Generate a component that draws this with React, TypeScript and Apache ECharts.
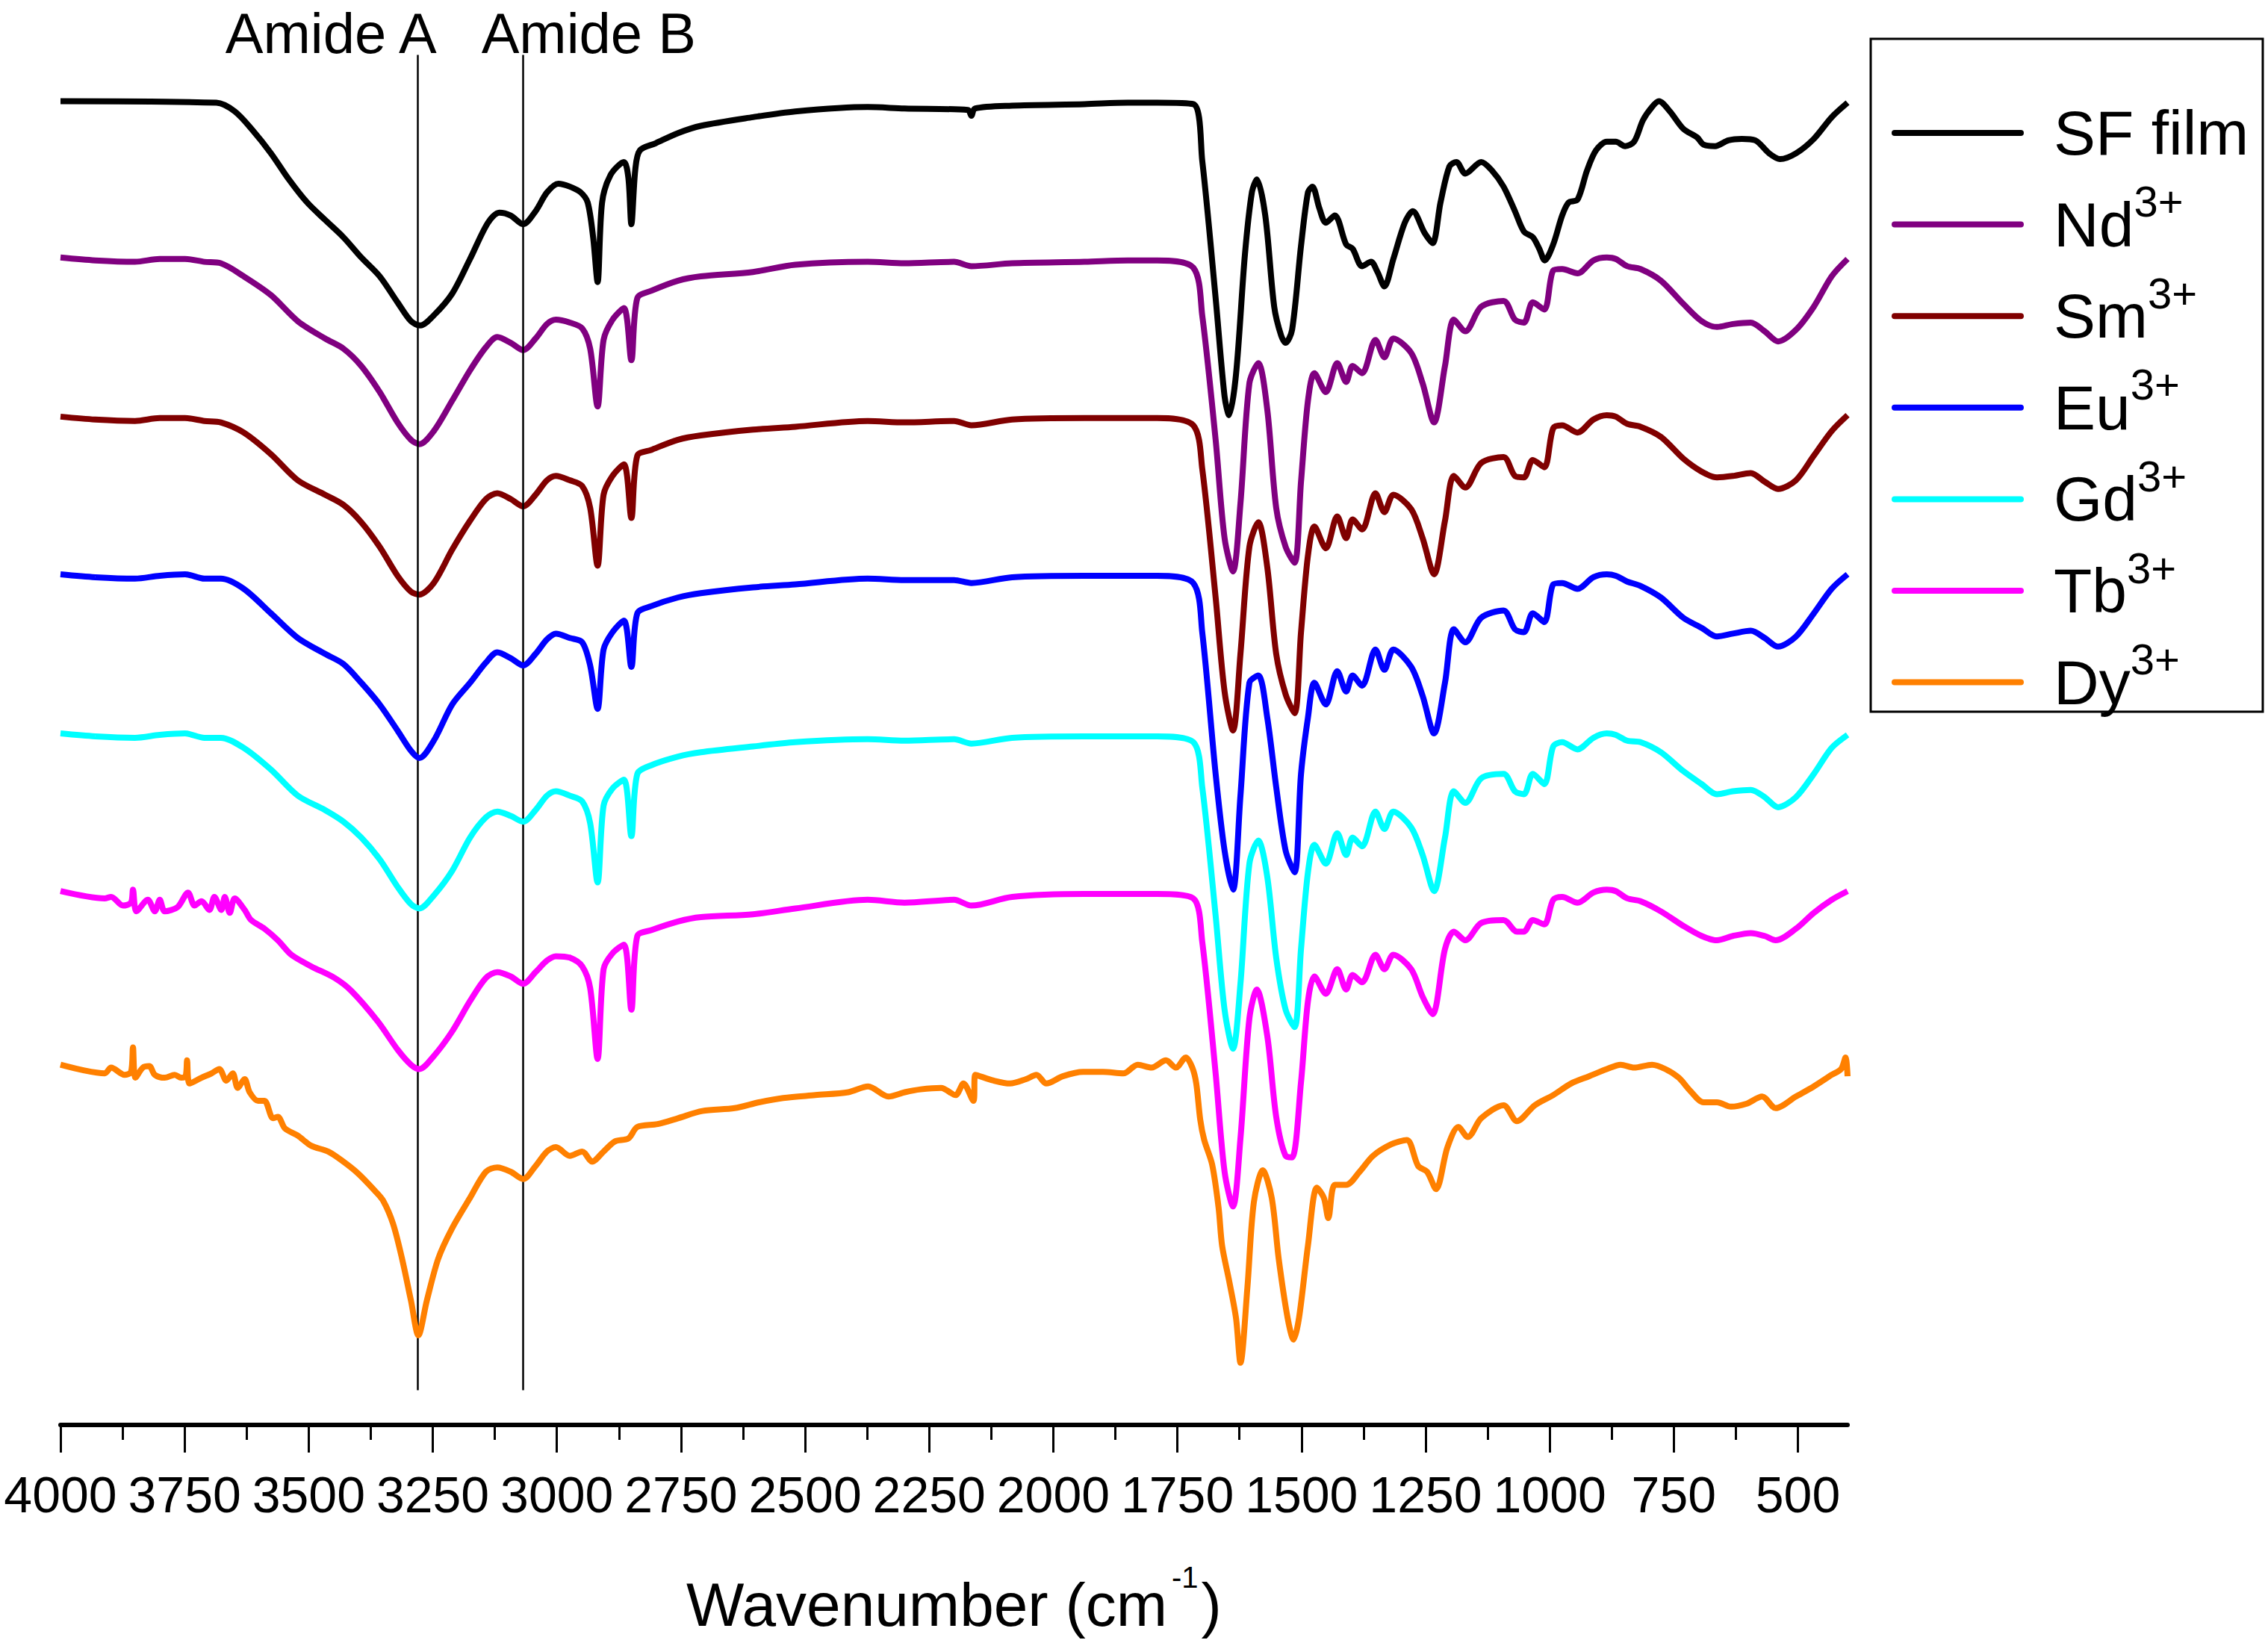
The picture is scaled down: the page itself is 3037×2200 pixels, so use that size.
import React, { useEffect, useRef } from "react";
import * as echarts from "echarts";

const FONT = "Liberation Sans, Arial, sans-serif";

// ---- categories / legend ----
const seriesNames = ["SF film", "Nd3+", "Sm3+", "Eu3+", "Gd3+", "Tb3+", "Dy3+"];
const legendBase = ["SF film", "Nd", "Sm", "Eu", "Gd", "Tb", "Dy"];
const legendCharge = ["", "3+", "3+", "3+", "3+", "3+", "3+"];
const seriesColors = ["#000000", "#800080", "#800000", "#0000ff", "#00ffff", "#ff00ff", "#ff8000"];

// ---- tick labels ----
const xTickValues = [4000, 3750, 3500, 3250, 3000, 2750, 2500, 2250, 2000, 1750, 1500, 1250, 1000, 750, 500];
const xMinorTickValues = [3875, 3625, 3375, 3125, 2875, 2625, 2375, 2125, 1875, 1625, 1375, 1125, 875, 625];

// ---- annotations ----
const amideLineWn = [3280, 3068];
const amideLabels = ["Amide A", "Amide B"];
const amideLabelWn = [3455, 2936];
const amideLabelLevel = 97.7;
const amideLineTop = 96.2;
const amideLineBottom = 3.9;

// ---- spectra: [wavenumber (cm-1), transmittance (a.u., offset)] ----
const sfFilm: [number, number][] = [
  [4000, 93.0], [3686, 92.9], [3649, 92.3], [3613, 91.0], [3576, 89.4], [3540, 87.6], [3503, 86.0], [3467, 84.8],
  [3430, 83.6], [3394, 82.2], [3357, 80.9], [3321, 79.1], [3294, 77.8], [3275, 77.5], [3248, 78.2], [3211, 79.7],
  [3175, 82.1], [3139, 84.6], [3116, 85.3], [3093, 85.1], [3068, 84.5], [3043, 85.4], [3020, 86.7], [2997, 87.3],
  [2974, 87.1], [2952, 86.7], [2938, 86.0], [2927, 83.6], [2918, 80.5], [2909, 86.0], [2892, 87.9], [2865, 88.8],
  [2856, 87.7], [2850, 84.5], [2842, 88.3], [2833, 89.6], [2801, 90.1], [2756, 90.8], [2710, 91.3], [2605, 91.9],
  [2520, 92.3], [2374, 92.6], [2300, 92.5], [2172, 92.4], [2165, 92.0], [2158, 92.5], [2083, 92.7], [1937, 92.8],
  [1850, 92.9], [1791, 92.9], [1718, 92.8], [1700, 88.9], [1673, 79.4], [1655, 72.6], [1646, 71.3], [1632, 74.1],
  [1614, 82.4], [1600, 86.7], [1590, 87.6], [1573, 85.1], [1555, 78.8], [1541, 76.8], [1532, 76.3], [1519, 77.2],
  [1501, 83.0], [1487, 86.7], [1478, 87.1], [1464, 85.6], [1451, 84.6], [1433, 85.1], [1410, 83.1], [1397, 82.8],
  [1378, 81.6], [1360, 81.9], [1347, 81.2], [1333, 80.2], [1315, 82.1], [1292, 84.6], [1276, 85.4], [1252, 83.9],
  [1236, 83.2], [1220, 86.0], [1202, 88.5], [1188, 88.8], [1170, 88.0], [1138, 88.8], [1116, 88.2], [1093, 87.1],
  [1070, 85.4], [1052, 84.0], [1034, 83.6], [1021, 82.8], [1010, 82.0], [993, 83.1], [975, 85.1], [962, 86.0],
  [944, 86.2], [925, 88.2], [907, 89.6], [885, 90.2], [867, 90.2], [848, 89.9], [830, 90.2], [812, 91.7],
  [794, 92.6], [780, 93.0], [758, 92.3], [731, 91.1], [703, 90.5], [690, 90.0], [667, 89.9], [640, 90.3],
  [613, 90.4], [586, 90.3], [558, 89.4], [536, 89.0], [504, 89.4], [468, 90.4], [432, 91.9], [400, 92.9],
];

const nd: [number, number][] = [
  [4000, 82.2], [3930, 82.0], [3850, 81.9], [3800, 82.1], [3749, 82.1], [3710, 81.9], [3677, 81.8], [3631, 80.9],
  [3576, 79.6], [3522, 77.8], [3467, 76.6], [3430, 75.9], [3394, 74.7], [3357, 72.9], [3321, 70.8], [3294, 69.6],
  [3277, 69.3], [3248, 70.2], [3211, 72.3], [3175, 74.4], [3143, 76.0], [3120, 76.7], [3093, 76.3], [3068, 75.8],
  [3043, 76.6], [3020, 77.6], [3002, 77.9], [2974, 77.7], [2949, 77.3], [2933, 75.9], [2918, 71.9], [2906, 76.5],
  [2888, 77.9], [2865, 78.7], [2850, 75.1], [2838, 79.4], [2810, 79.9], [2756, 80.6], [2710, 80.9], [2605, 81.2],
  [2520, 81.7], [2374, 81.9], [2300, 81.8], [2200, 81.9], [2165, 81.6], [2083, 81.8], [1937, 81.9], [1850, 82.0],
  [1791, 82.0], [1718, 81.5], [1700, 78.2], [1673, 69.6], [1655, 62.8], [1638, 60.5], [1623, 65.2], [1605, 73.5],
  [1587, 74.9], [1569, 71.7], [1551, 64.9], [1532, 62.2], [1514, 61.1], [1501, 66.7], [1487, 72.3], [1474, 74.2],
  [1451, 72.9], [1428, 74.9], [1410, 73.6], [1397, 74.7], [1378, 74.2], [1351, 76.5], [1333, 75.3], [1315, 76.6],
  [1279, 75.6], [1256, 73.5], [1233, 70.8], [1211, 74.7], [1193, 77.9], [1170, 77.1], [1138, 78.8], [1093, 79.2],
  [1070, 77.9], [1052, 77.7], [1034, 79.1], [1011, 78.6], [993, 81.3], [975, 81.4], [944, 81.1], [912, 82.0],
  [885, 82.2], [867, 82.1], [844, 81.6], [817, 81.4], [776, 80.6], [731, 79.0], [694, 77.8], [663, 77.4],
  [631, 77.6], [595, 77.7], [567, 77.1], [540, 76.4], [504, 77.2], [468, 78.8], [432, 80.9], [400, 82.1],
];

const sm: [number, number][] = [
  [4000, 71.2], [3930, 71.0], [3850, 70.9], [3800, 71.1], [3749, 71.1], [3710, 70.9], [3677, 70.8], [3631, 70.1],
  [3576, 68.6], [3522, 66.8], [3467, 65.8], [3430, 65.1], [3394, 63.9], [3357, 62.2], [3321, 60.2], [3294, 59.1],
  [3277, 58.9], [3248, 59.7], [3211, 62.0], [3175, 64.0], [3143, 65.5], [3120, 65.9], [3093, 65.5], [3068, 65.0],
  [3043, 65.8], [3020, 66.8], [3002, 67.1], [2974, 66.8], [2949, 66.4], [2933, 64.9], [2918, 60.9], [2906, 65.8],
  [2888, 67.1], [2865, 67.9], [2850, 64.2], [2838, 68.5], [2810, 68.9], [2756, 69.6], [2710, 69.9], [2605, 70.3],
  [2520, 70.5], [2374, 70.9], [2300, 70.8], [2200, 70.9], [2165, 70.6], [2083, 71.0], [1937, 71.1], [1850, 71.1],
  [1791, 71.1], [1718, 70.6], [1700, 67.6], [1673, 58.7], [1655, 52.2], [1638, 49.5], [1623, 54.8], [1605, 62.2],
  [1587, 63.9], [1569, 60.8], [1551, 54.8], [1532, 52.0], [1514, 50.7], [1501, 56.3], [1487, 61.6], [1474, 63.6],
  [1451, 62.1], [1428, 64.3], [1410, 62.8], [1397, 64.1], [1378, 63.4], [1351, 65.9], [1333, 64.6], [1315, 65.8],
  [1279, 64.8], [1256, 62.8], [1233, 60.3], [1211, 64.0], [1193, 67.1], [1170, 66.3], [1138, 68.0], [1093, 68.4],
  [1070, 67.1], [1052, 67.0], [1034, 68.2], [1011, 67.7], [993, 70.4], [975, 70.6], [944, 70.1], [912, 71.0],
  [885, 71.3], [867, 71.2], [844, 70.7], [817, 70.5], [776, 69.8], [731, 68.3], [694, 67.4], [663, 67.0],
  [631, 67.1], [595, 67.3], [567, 66.7], [540, 66.2], [504, 66.8], [468, 68.5], [432, 70.2], [400, 71.3],
];

const eu: [number, number][] = [
  [4000, 60.3], [3930, 60.1], [3850, 60.0], [3800, 60.2], [3749, 60.3], [3710, 60.0], [3677, 60.0], [3631, 59.3],
  [3576, 57.6], [3522, 55.9], [3467, 54.8], [3430, 54.1], [3394, 52.8], [3357, 51.3], [3321, 49.5], [3294, 48.1],
  [3277, 47.6], [3248, 48.8], [3211, 51.3], [3175, 52.8], [3143, 54.2], [3120, 54.9], [3093, 54.5], [3068, 54.0],
  [3043, 54.8], [3020, 55.8], [3002, 56.2], [2974, 55.9], [2949, 55.6], [2933, 54.0], [2918, 51.0], [2906, 55.1],
  [2888, 56.3], [2865, 57.1], [2850, 53.9], [2838, 57.6], [2810, 58.1], [2756, 58.7], [2710, 59.0], [2605, 59.4],
  [2520, 59.6], [2374, 60.0], [2300, 59.9], [2200, 59.9], [2165, 59.7], [2083, 60.1], [1937, 60.2], [1850, 60.2],
  [1791, 60.2], [1718, 59.7], [1700, 56.3], [1673, 46.5], [1655, 41.2], [1638, 38.5], [1623, 45.0], [1605, 52.8],
  [1587, 53.3], [1569, 50.4], [1551, 45.6], [1532, 41.2], [1514, 39.7], [1501, 46.5], [1487, 50.4], [1474, 52.8],
  [1451, 51.3], [1428, 53.6], [1410, 52.2], [1397, 53.3], [1378, 52.6], [1351, 55.1], [1333, 53.7], [1315, 55.1],
  [1279, 53.9], [1256, 51.9], [1233, 49.3], [1211, 52.8], [1193, 56.5], [1170, 55.6], [1138, 57.3], [1093, 57.8],
  [1070, 56.5], [1052, 56.3], [1034, 57.6], [1011, 57.0], [993, 59.6], [975, 59.7], [944, 59.3], [912, 60.1],
  [885, 60.3], [867, 60.2], [844, 59.8], [817, 59.5], [776, 58.7], [731, 57.3], [694, 56.6], [663, 56.0],
  [631, 56.2], [595, 56.4], [567, 55.9], [540, 55.3], [504, 56.0], [468, 57.6], [432, 59.3], [400, 60.3],
];

const gd: [number, number][] = [
  [4000, 49.3], [3930, 49.1], [3850, 49.0], [3800, 49.2], [3749, 49.3], [3710, 49.0], [3677, 49.0], [3631, 48.3],
  [3576, 46.8], [3522, 45.0], [3467, 44.0], [3430, 43.2], [3394, 42.1], [3357, 40.6], [3321, 38.7], [3294, 37.5],
  [3277, 37.2], [3248, 38.1], [3211, 39.8], [3175, 42.1], [3143, 43.5], [3120, 43.9], [3093, 43.6], [3068, 43.2],
  [3043, 44.0], [3020, 45.0], [3002, 45.3], [2974, 45.0], [2949, 44.6], [2933, 43.1], [2918, 39.0], [2906, 44.3],
  [2888, 45.5], [2865, 46.1], [2850, 42.2], [2838, 46.5], [2810, 47.1], [2756, 47.7], [2710, 48.0], [2605, 48.4],
  [2520, 48.7], [2374, 48.9], [2300, 48.8], [2200, 48.9], [2165, 48.6], [2083, 49.0], [1937, 49.1], [1850, 49.1],
  [1791, 49.1], [1718, 48.7], [1700, 45.6], [1673, 36.7], [1655, 30.2], [1638, 27.5], [1623, 32.0], [1605, 40.3],
  [1587, 41.9], [1569, 39.4], [1551, 33.8], [1532, 30.2], [1514, 29.0], [1501, 34.4], [1487, 39.7], [1474, 41.6],
  [1451, 40.3], [1428, 42.4], [1410, 40.9], [1397, 42.1], [1378, 41.5], [1351, 43.9], [1333, 42.7], [1315, 43.9],
  [1279, 42.8], [1256, 40.9], [1233, 38.4], [1211, 42.1], [1193, 45.3], [1170, 44.5], [1138, 46.2], [1093, 46.5],
  [1070, 45.3], [1052, 45.1], [1034, 46.5], [1011, 45.8], [993, 48.4], [975, 48.7], [944, 48.2], [912, 49.0],
  [885, 49.3], [867, 49.2], [844, 48.8], [817, 48.7], [776, 48.0], [731, 46.7], [694, 45.8], [663, 45.1],
  [631, 45.3], [595, 45.4], [567, 44.9], [540, 44.2], [504, 44.9], [468, 46.5], [432, 48.3], [400, 49.2],
];

const tb: [number, number][] = [
  [4000, 38.4], [3911, 37.9], [3898, 38.0], [3874, 37.4], [3858, 37.6], [3854, 38.5], [3847, 37.0], [3824, 37.8],
  [3810, 37.0], [3800, 37.8], [3790, 37.0], [3764, 37.3], [3743, 38.3], [3730, 37.4], [3716, 37.7], [3700, 37.1],
  [3690, 38.0], [3676, 37.1], [3669, 38.0], [3659, 36.9], [3649, 37.9], [3629, 37.1], [3616, 36.4], [3589, 35.8],
  [3562, 35.0], [3535, 34.0], [3495, 33.2], [3448, 32.4], [3414, 31.5], [3361, 29.4], [3320, 27.4], [3294, 26.4],
  [3277, 26.1], [3248, 27.0], [3211, 28.7], [3175, 30.8], [3143, 32.4], [3120, 32.8], [3093, 32.5], [3068, 32.0],
  [3043, 32.8], [3020, 33.6], [3002, 33.9], [2974, 33.8], [2949, 33.2], [2933, 31.7], [2918, 26.8], [2906, 33.0],
  [2888, 34.1], [2865, 34.7], [2850, 30.2], [2838, 35.3], [2810, 35.7], [2756, 36.3], [2710, 36.6], [2605, 36.8],
  [2520, 37.2], [2374, 37.8], [2300, 37.6], [2200, 37.8], [2165, 37.4], [2083, 38.0], [1937, 38.2], [1850, 38.2],
  [1791, 38.2], [1718, 37.9], [1700, 34.9], [1673, 25.8], [1655, 19.0], [1638, 16.6], [1623, 21.3], [1605, 29.6],
  [1590, 31.6], [1569, 28.4], [1551, 22.8], [1532, 20.1], [1519, 20.0], [1501, 25.2], [1487, 30.8], [1474, 32.5],
  [1451, 31.3], [1428, 33.0], [1410, 31.6], [1397, 32.6], [1378, 32.1], [1351, 34.0], [1333, 33.0], [1315, 34.0],
  [1279, 33.0], [1256, 31.1], [1236, 29.9], [1211, 34.4], [1193, 35.6], [1170, 35.0], [1138, 36.2], [1093, 36.4],
  [1066, 35.6], [1052, 35.6], [1034, 36.4], [1011, 36.1], [993, 37.8], [975, 38.0], [944, 37.6], [912, 38.3],
  [885, 38.5], [867, 38.4], [844, 37.9], [817, 37.7], [776, 37.0], [731, 36.0], [694, 35.3], [663, 35.0],
  [631, 35.3], [595, 35.5], [567, 35.3], [545, 35.0], [504, 35.8], [468, 36.9], [432, 37.8], [400, 38.4],
];

const dy: [number, number][] = [
  [4000, 26.4], [3952, 26.0], [3911, 25.8], [3898, 26.2], [3871, 25.7], [3858, 25.9], [3854, 27.6], [3849, 25.5],
  [3834, 26.2], [3821, 26.3], [3810, 25.7], [3790, 25.5], [3770, 25.7], [3757, 25.5], [3748, 25.6], [3745, 26.7],
  [3740, 25.1], [3716, 25.5], [3696, 25.8], [3680, 26.1], [3666, 25.3], [3653, 25.8], [3643, 24.8], [3629, 25.4],
  [3619, 24.5], [3602, 23.9], [3589, 23.9], [3572, 22.7], [3562, 22.8], [3548, 22.0], [3522, 21.5], [3495, 20.8],
  [3461, 20.4], [3434, 19.8], [3401, 18.9], [3367, 17.7], [3350, 17.0], [3330, 15.4], [3312, 13.0], [3294, 10.1],
  [3279, 7.7], [3262, 10.1], [3239, 13.0], [3211, 15.1], [3175, 17.2], [3143, 19.0], [3120, 19.3], [3093, 19.0],
  [3068, 18.5], [3043, 19.4], [3020, 20.4], [3002, 20.7], [2974, 20.1], [2949, 20.4], [2929, 19.7], [2906, 20.4],
  [2883, 21.1], [2856, 21.3], [2838, 22.1], [2797, 22.3], [2756, 22.7], [2707, 23.2], [2642, 23.4], [2593, 23.8],
  [2544, 24.1], [2479, 24.3], [2413, 24.5], [2373, 24.9], [2332, 24.2], [2299, 24.5], [2267, 24.7], [2226, 24.8],
  [2197, 24.3], [2181, 25.1], [2161, 23.9], [2157, 25.7], [2120, 25.3], [2087, 25.1], [2055, 25.4], [2034, 25.7],
  [2014, 25.1], [1981, 25.6], [1940, 25.9], [1900, 25.9], [1859, 25.8], [1830, 26.4], [1802, 26.2], [1773, 26.7],
  [1753, 26.2], [1733, 26.9], [1720, 26.2], [1712, 25.1], [1704, 22.6], [1696, 21.2], [1680, 19.5], [1667, 16.5],
  [1660, 13.9], [1646, 11.5], [1632, 8.9], [1623, 5.8], [1609, 11.0], [1596, 16.9], [1578, 19.1], [1560, 17.2],
  [1546, 13.0], [1528, 8.9], [1516, 7.4], [1505, 8.9], [1487, 13.9], [1469, 17.9], [1455, 17.2], [1446, 15.8],
  [1433, 18.1], [1410, 18.1], [1383, 19.0], [1356, 20.1], [1319, 20.9], [1288, 21.2], [1265, 19.4], [1247, 19.0],
  [1229, 17.8], [1206, 20.7], [1184, 22.1], [1165, 21.4], [1138, 22.7], [1093, 23.6], [1066, 22.5], [1030, 23.6],
  [993, 24.3], [957, 25.1], [921, 25.6], [885, 26.1], [857, 26.4], [830, 26.2], [794, 26.4], [767, 26.1],
  [740, 25.5], [717, 24.6], [690, 23.8], [663, 23.8], [635, 23.5], [604, 23.7], [572, 24.2], [545, 23.4],
  [504, 24.2], [468, 24.9], [432, 25.7], [413, 26.1], [404, 26.9], [400, 25.6],
];

const spectra = [sfFilm, nd, sm, eu, gd, tb, dy];

// legend box layout (pixels)
const LEG = { x: 2505, y: 52, w: 525, h: 901, firstRow: 178, rowStep: 122.6, lineX1: 2537, lineX2: 2706, textX: 2750 };

export default function App() {
  const ref = useRef<HTMLDivElement>(null);

  useEffect(() => {
    document.body.style.margin = "0";
    if (!ref.current) return;
    const chart = echarts.init(ref.current, null, { renderer: "svg" });

    const lineSeries = spectra.map((data, i) => ({
      name: seriesNames[i],
      type: "line",
      data,
      showSymbol: false,
      symbol: "none",
      smooth: 0.3,
      lineStyle: { color: seriesColors[i], width: 8 },
      itemStyle: { color: seriesColors[i] },
      z: 2 + i,
    }));

    const annotationSeries = {
      name: "annotations",
      type: "line",
      data: [],
      z: 20,
      markLine: {
        silent: true,
        symbol: "none",
        label: { show: false },
        lineStyle: { color: "#000", width: 2.5, type: "solid" },
        data: amideLineWn.map((wn) => [
          { coord: [wn, amideLineTop] },
          { coord: [wn, amideLineBottom] },
        ]),
      },
      markPoint: {
        silent: true,
        symbol: "circle",
        symbolSize: 0,
        label: {
          show: true,
          position: "inside",
          formatter: "{b}",
          fontFamily: FONT,
          fontSize: 76,
          lineHeight: 70,
          color: "#000",
        },
        data: amideLabels.map((name, i) => ({ name, coord: [amideLabelWn[i], amideLabelLevel] })),
      },
    };

    const legendItems: any[] = [];
    seriesNames.forEach((_, i) => {
      const cy = LEG.firstRow + i * LEG.rowStep;
      legendItems.push({
        type: "line",
        shape: { x1: LEG.lineX1, y1: cy, x2: LEG.lineX2, y2: cy },
        style: { stroke: seriesColors[i], lineWidth: 8, lineCap: "round" },
      });
      legendItems.push({
        type: "text",
        x: LEG.textX,
        y: cy,
        style: {
          text: legendCharge[i] ? `{b|${legendBase[i]}}{s|${legendCharge[i]}}` : `{b|${legendBase[i]}}`,
          fill: "#000",
          fontFamily: FONT,
          fontSize: 84,
          lineHeight: 84,
          align: "left",
          verticalAlign: "middle",
          rich: {
            b: { fontFamily: FONT, fontSize: 84, lineHeight: 84, fill: "#000" },
            s: { fontFamily: FONT, fontSize: 58, height: 22, verticalAlign: "top", fill: "#000" },
          },
        },
      });
    });

    const option: any = {
      animation: false,
      backgroundColor: "#ffffff",
      textStyle: { fontFamily: FONT },
      grid: { left: 81, right: 563, top: 0, bottom: 292, containLabel: false, outerBoundsMode: "none" },
      graphic: [
        {
          type: "group",
          z: 50,
          children: [
            {
              type: "rect",
              shape: { x: LEG.x, y: LEG.y, width: LEG.w, height: LEG.h },
              style: { fill: "none", stroke: "#000", lineWidth: 3 },
            },
            ...legendItems,
          ],
        },
      ],
      xAxis: [
        {
          type: "value",
          inverse: true,
          min: 400,
          max: 4000,
          position: "bottom",
          axisLine: { show: true, onZero: false, lineStyle: { color: "#000", width: 6 } },
          axisTick: { show: true, length: 37, lineStyle: { color: "#000", width: 3 }, customValues: xTickValues },
          axisLabel: {
            show: true,
            customValues: xTickValues,
            formatter: (v: number) => String(v),
            fontFamily: FONT,
            fontSize: 68,
            color: "#000",
            margin: 59,
          },
          splitLine: { show: false },
          name: "{b|Wavenumber (cm}{s|-1}{b|)}",
          nameLocation: "middle",
          nameGap: 195,
          nameTextStyle: {
            fontFamily: FONT,
            fontSize: 82,
            color: "#000",
            lineHeight: 90,
            rich: {
              b: { fontFamily: FONT, fontSize: 82, lineHeight: 90, color: "#000" },
              s: { fontFamily: FONT, fontSize: 40, height: 18, lineHeight: 18, verticalAlign: "top", color: "#000", padding: [0, 4, 0, 6] },
            },
          },
        },
        {
          type: "value",
          inverse: true,
          min: 400,
          max: 4000,
          position: "bottom",
          offset: 0,
          axisLine: { show: false, onZero: false },
          axisTick: { show: true, length: 20, lineStyle: { color: "#000", width: 3 }, customValues: xMinorTickValues },
          axisLabel: { show: false },
          splitLine: { show: false },
        },
      ],
      yAxis: { type: "value", min: 1.5, max: 100, show: false },
      series: [...lineSeries, annotationSeries],
    };

    chart.setOption(option);
    return () => chart.dispose();
  }, []);

  return <div ref={ref} style={{ width: 3037, height: 2200 }} />;
}
